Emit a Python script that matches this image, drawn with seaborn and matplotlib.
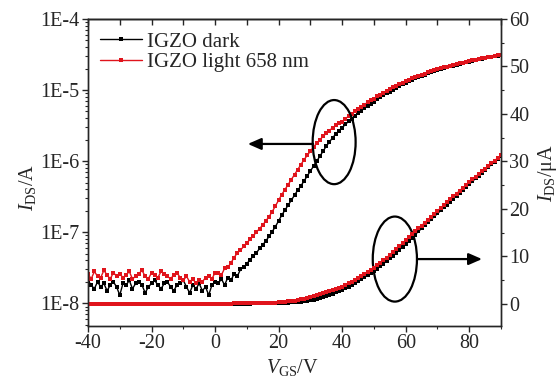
import numpy as np
import pandas as pd
import seaborn as sns
import matplotlib
matplotlib.use("Agg")
import matplotlib.pyplot as plt
from matplotlib.patches import Ellipse
from matplotlib.lines import Line2D
from matplotlib.ticker import LogLocator, MultipleLocator, NullFormatter

# ---------------- data ----------------
v_gs = list(range(-40, 91))  # gate voltage, V

# drain current, nA  (V = -40 ... 90, 1 V step)
dark_nA = [
    21, 18, 16, 20, 17, 19, 15, 18, 20, 17, 13, 19, 18, 21, 16, 19, 20, 18, 14, 17,
    19, 21, 18, 16, 19, 20, 17, 15, 18, 19, 21, 17, 14, 18, 16, 19, 15, 17, 13, 18, 20,
    19, 22, 18, 23, 21, 26, 24, 30, 32, 36, 41, 46, 51, 59, 66, 76, 87, 102, 120, 145,
    174, 204, 240, 282, 331, 389, 447, 525, 617, 724, 851, 1000, 1175, 1380, 1622, 1862,
    2138, 2399, 2692,
    2950, 3280, 3620, 3970, 4330, 4700, 5120, 5540, 5970, 6410, 6850, 7370, 7900, 8440,
    8980, 9530, 10150, 10780, 11400, 12040, 12680, 13310, 13950, 14580, 15220, 15850,
    16490, 17120, 17760, 18390, 19030, 19650, 20280, 20900, 21530, 22140, 22760, 23370,
    23990, 24590, 25200, 25800, 26400, 27000, 27590, 28180, 28770, 29350, 29930, 30500,
    31070,
]
light_nA = [
    26, 22, 28, 24, 23, 29, 25, 22, 27, 24, 26, 23, 25, 28, 22, 24, 26, 29, 24, 22,
    27, 25, 23, 28, 26, 24, 22, 25, 27, 23, 21, 24, 20, 22, 19, 21, 20, 23, 24, 22, 27,
    27, 25, 31, 32, 37, 44, 51, 56, 63, 71, 79, 89, 100, 112, 126, 145, 166, 195, 234,
    282, 339, 398, 468, 550, 646, 759, 891, 1047, 1202, 1380, 1585, 1778, 1995, 2239,
    2455, 2692, 2951, 3180, 3390,
    3600, 3940, 4290, 4650, 5020, 5400, 5830, 6260, 6700, 7150, 7600, 8120, 8650, 9180,
    9720, 10260, 10880, 11500, 12120, 12750, 13380, 14000, 14620, 15240, 15860, 16480,
    17100, 17720, 18340, 18960, 19580, 20190, 20800, 21410, 22020, 22620, 23220, 23820,
    24420, 25010, 25600, 26180, 26760, 27340, 27910, 28480, 29050, 29610, 30170, 30720,
    31270,
]
series_names = ["IGZO dark", "IGZO light 658 nm"]
series_colors = ["#000000", "#e0141c"]

left_ticks = [1e-8, 1e-7, 1e-6, 1e-5, 1e-4]
left_tick_labels = ["1E-8", "1E-7", "1E-6", "1E-5", "1E-4"]
right_ticks = [0, 10, 20, 30, 40, 50, 60]
x_ticks = [-40, -20, 0, 20, 40, 60, 80]

# ---------------- table ----------------
frames = []
for name, vals in zip(series_names, [dark_nA, light_nA]):
    arr = np.array(vals, dtype=float)
    frames.append(pd.DataFrame({"V": v_gs, "I_A": arr * 1e-9, "I_uA": arr * 1e-3, "cond": name}))
df = pd.concat(frames, ignore_index=True)
palette = dict(zip(series_names, series_colors))

# ---------------- style ----------------
sns.set_style("ticks")
plt.rcParams["font.family"] = ["Liberation Serif", "DejaVu Serif"]
plt.rcParams["mathtext.fontset"] = "custom"
plt.rcParams["mathtext.rm"] = "Liberation Serif"
plt.rcParams["mathtext.it"] = "Liberation Serif:italic"
plt.rcParams["axes.linewidth"] = 1.0

fig = plt.figure(figsize=(5.58, 3.85), dpi=100)
fig.subplots_adjust(left=88 / 558, right=501 / 558, bottom=1 - 326 / 385, top=1 - 19 / 385)
ax = fig.add_subplot(111)
ax2 = ax.twinx()

line_kw = dict(marker="s", markersize=2.5, markeredgewidth=0, linewidth=1.0,
               estimator=None, sort=False, legend=False)
for name in series_names:
    sub = df[df["cond"] == name]
    sns.lineplot(data=sub, x="V", y="I_A", color=palette[name], ax=ax, **line_kw)
    sns.lineplot(data=sub, x="V", y="I_uA", color=palette[name], ax=ax2, **line_kw)

# left log axis
ax.set_yscale("log")
ax.set_ylim(10 ** -8.32, 1e-4)
ax.set_yticks(left_ticks)
ax.set_yticklabels(left_tick_labels)
ax.yaxis.set_minor_locator(LogLocator(base=10, subs=np.arange(2, 10), numticks=20))
ax.yaxis.set_minor_formatter(NullFormatter())

# x axis
ax.set_xlim(-40, 90)
ax.set_xticks(x_ticks)
ax.set_xticklabels([str(t) for t in x_ticks])
ax.xaxis.set_minor_locator(MultipleLocator(10))

# right linear axis
ax2.set_ylim(-4.7, 60)
ax2.set_yticks(right_ticks)
ax2.set_yticklabels([str(t) for t in right_ticks])
ax2.yaxis.set_minor_locator(MultipleLocator(5))

fs = 14.5
ax.tick_params(axis="both", which="major", direction="out", length=4, width=1, labelsize=fs, pad=2)
ax.tick_params(axis="both", which="minor", direction="out", length=2.5, width=0.8)
ax2.tick_params(axis="y", which="major", direction="out", length=4, width=1, labelsize=fs, pad=2)
ax2.tick_params(axis="y", which="minor", direction="out", length=2.5, width=0.8)

top = ax.secondary_xaxis("top")
top.set_xticks(list(range(-40, 91, 10)))
top.tick_params(direction="in", length=4, width=1, labeltop=False)
top.xaxis.set_minor_locator(matplotlib.ticker.NullLocator())

for a in (ax, ax2):
    for s in a.spines.values():
        s.set_visible(True)
        s.set_linewidth(1.0)

ax.set_xlabel(r"$V_{\rm GS}$/V", fontsize=fs)
ax.set_ylabel(r"$I_{\rm DS}$/A", fontsize=fs)
ax2.set_ylabel(r"$I_{\rm DS}$/μA", fontsize=fs)
ax.xaxis.set_label_coords(0.494, -0.10)
ax.yaxis.set_label_coords(-0.12, 0.45)
ax2.yaxis.set_label_coords(1.085, 0.50)

# legend
handles = [Line2D([], [], color=c, marker="s", markersize=2.6, markeredgewidth=0, linewidth=1.0)
           for c in series_colors]
ax.legend(handles, series_names, loc="upper left", frameon=False, fontsize=15,
          handlelength=2.0, handletextpad=0.25, labelspacing=0.05,
          borderaxespad=0.0, bbox_to_anchor=(0.01, 0.985))

# annotation ellipses and arrows (axes-fraction coordinates)
for (cx, cy, w, h) in [(0.596, 0.599, 0.104, 0.274), (0.743, 0.218, 0.107, 0.277)]:
    ax.add_patch(Ellipse((cx, cy), w, h, transform=ax.transAxes, fill=False,
                         edgecolor="black", linewidth=1.6, zorder=5))
arrow_kw = dict(arrowstyle="-|>,head_length=0.8,head_width=0.35", color="black", lw=1.6,
                shrinkA=0, shrinkB=0)
ax.annotate("", xy=(0.387, 0.593), xytext=(0.545, 0.593), xycoords="axes fraction",
            textcoords="axes fraction", arrowprops=arrow_kw)
ax.annotate("", xy=(0.954, 0.218), xytext=(0.797, 0.218), xycoords="axes fraction",
            textcoords="axes fraction", arrowprops=arrow_kw)

fig.savefig("out.png", dpi=100)
